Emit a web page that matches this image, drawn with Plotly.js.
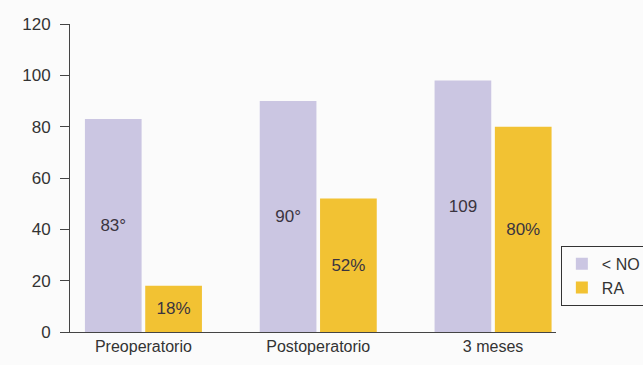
<!DOCTYPE html>
<html><head><meta charset="utf-8">
<script src="https://cdn.plot.ly/plotly-3.0.1.min.js"></script>
<style>html,body{margin:0;padding:0;background:#fbfbfb}</style>
</head><body>
<div id="chart" style="width:643px;height:365px"></div>
<script>
const categories = ["Preoperatorio", "Postoperatorio", "3 meses"];
const seriesNames = ["< NO", "RA"];
const noValues = [83, 90, 98];
const raValues = [18, 52, 80];
const noLabels = ["83°", "90°", "109"];
const raLabels = ["18%", "52%", "80%"];
const yTicks = [0, 20, 40, 60, 80, 100, 120];

const textFont = {family: "Liberation Sans, Arial, sans-serif", size: 17, color: "#3a3440"};
const traces = [
  {type: "bar", name: seriesNames[0], x: categories, y: noValues, text: noLabels,
   textposition: "inside", insidetextanchor: "middle", textangle: 0,
   textfont: textFont, marker: {color: "#cbc6e2"}, hoverinfo: "none"},
  {type: "bar", name: seriesNames[1], x: categories, y: raValues, text: raLabels,
   textposition: "inside", insidetextanchor: "middle", textangle: 0,
   textfont: textFont, marker: {color: "#f2c233"}, hoverinfo: "none"}
];
const layout = {
  width: 643, height: 365,
  margin: {l: 70, r: 87, t: 24, b: 33, autoexpand: false},
  paper_bgcolor: "#fbfbfb", plot_bgcolor: "#fbfbfb",
  barmode: "group", bargap: 0.31, bargroupgap: 0.06,
  font: {family: "Liberation Sans, Arial, sans-serif", size: 16, color: "#333"},
  showlegend: true,
  legend: {x: 1.01, y: 0.28, xanchor: "left", yanchor: "top",
    bordercolor: "#333", borderwidth: 1, bgcolor: "#fbfbfb",
    font: {size: 16, color: "#333"}, itemwidth: 30, tracegroupgap: 2},
  xaxis: {range: [-0.42, 2.36], showline: true, linecolor: "#444", linewidth: 1,
    ticks: "", showgrid: false, zeroline: false, fixedrange: true,
    tickfont: {size: 16, color: "#333"}},
  yaxis: {range: [0, 120], tickvals: yTicks, showline: true, linecolor: "#444", linewidth: 1,
    ticks: "outside", ticklen: 9, tickcolor: "#444", showgrid: false, zeroline: false,
    ticklabelstandoff: 6, tickfont: {size: 17, color: "#333"}}
};
Plotly.newPlot("chart", traces, layout, {displayModeBar: false, staticPlot: true});
</script>
</body></html>
